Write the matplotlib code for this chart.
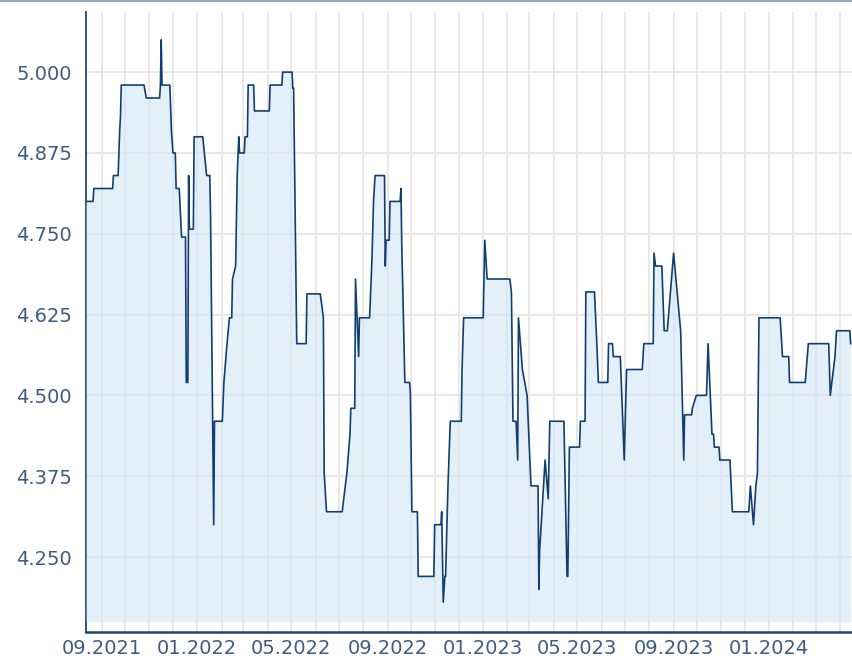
import matplotlib
matplotlib.use('Agg')
import matplotlib.pyplot as plt
import matplotlib.dates as mdates
from matplotlib.ticker import FormatStrFormatter
from matplotlib.lines import Line2D
import pandas as pd

dates = [
    "2021-08-12", "2021-08-21", "2021-08-22", "2021-09-15", "2021-09-16", "2021-09-22",
    "2021-09-24", "2021-09-25", "2021-09-26", "2021-10-25", "2021-10-28", "2021-11-14",
    "2021-11-15", "2021-11-16", "2021-11-17", "2021-11-27", "2021-11-29", "2021-12-01",
    "2021-12-04", "2021-12-05", "2021-12-09", "2021-12-12", "2021-12-17", "2021-12-18",
    "2021-12-20", "2021-12-21", "2021-12-22", "2021-12-27", "2021-12-28", "2022-01-08",
    "2022-01-13", "2022-01-17", "2022-01-18", "2022-01-22", "2022-01-23", "2022-02-02",
    "2022-02-04", "2022-02-08", "2022-02-11", "2022-02-14", "2022-02-15", "2022-02-19",
    "2022-02-21", "2022-02-23", "2022-02-24", "2022-03-02", "2022-03-03", "2022-03-06",
    "2022-03-07", "2022-03-14", "2022-03-15", "2022-04-03", "2022-04-04", "2022-04-19",
    "2022-04-20", "2022-05-02", "2022-05-03", "2022-05-04", "2022-05-05", "2022-05-08",
    "2022-05-20", "2022-05-21", "2022-06-07", "2022-06-11", "2022-06-12", "2022-06-15",
    "2022-07-05", "2022-07-11", "2022-07-15", "2022-07-16", "2022-07-21", "2022-07-22",
    "2022-07-26", "2022-07-27", "2022-08-09", "2022-08-12", "2022-08-14", "2022-08-16",
    "2022-08-28", "2022-08-29", "2022-08-30", "2022-09-03", "2022-09-04", "2022-09-17",
    "2022-09-18", "2022-09-19", "2022-09-23", "2022-09-29", "2022-09-30", "2022-10-02",
    "2022-10-09", "2022-10-10", "2022-10-30", "2022-10-31", "2022-11-08", "2022-11-09",
    "2022-11-11", "2022-11-13", "2022-11-14", "2022-11-17", "2022-11-20", "2022-12-04",
    "2022-12-05", "2022-12-07", "2023-01-01", "2023-01-03", "2023-01-06", "2023-02-04",
    "2023-02-06", "2023-02-08", "2023-02-12", "2023-02-14", "2023-02-15", "2023-02-20",
    "2023-02-26", "2023-03-03", "2023-03-12", "2023-03-13", "2023-03-14", "2023-03-21",
    "2023-03-25", "2023-03-27", "2023-04-14", "2023-04-18", "2023-04-19", "2023-04-21",
    "2023-05-04", "2023-05-05", "2023-05-11", "2023-05-12", "2023-05-23", "2023-05-26",
    "2023-05-28", "2023-06-09", "2023-06-10", "2023-06-15", "2023-06-16", "2023-06-25",
    "2023-06-30", "2023-07-03", "2023-07-23", "2023-07-25", "2023-08-06", "2023-08-07",
    "2023-08-09", "2023-08-17", "2023-08-20", "2023-08-24", "2023-08-28", "2023-09-01",
    "2023-09-10", "2023-09-14", "2023-09-15", "2023-09-24", "2023-09-25", "2023-09-30",
    "2023-10-13", "2023-10-15", "2023-10-20", "2023-10-22", "2023-10-23", "2023-10-29",
    "2023-10-30", "2023-11-12", "2023-11-15", "2023-12-06", "2023-12-08", "2023-12-12",
    "2023-12-15", "2023-12-17", "2023-12-19", "2024-01-15", "2024-01-18", "2024-01-26",
    "2024-01-27", "2024-02-16", "2024-02-20", "2024-03-17", "2024-03-19", "2024-03-25",
    "2024-03-27", "2024-04-13", "2024-04-14",
]

values = [
    4.80, 4.80, 4.82, 4.82, 4.84, 4.84,
    4.91, 4.93, 4.98, 4.98, 4.96, 4.96,
    4.98, 5.05, 4.98, 4.98, 4.91, 4.875,
    4.875, 4.82, 4.82, 4.745, 4.745, 4.52,
    4.52, 4.84, 4.757, 4.757, 4.90, 4.90,
    4.84, 4.84, 4.775, 4.30, 4.46, 4.46,
    4.52, 4.58, 4.62, 4.62, 4.68, 4.70,
    4.84, 4.90, 4.875, 4.875, 4.90, 4.90,
    4.98, 4.98, 4.94, 4.94, 4.98, 4.98,
    5.00, 5.00, 4.975, 4.975, 4.875, 4.58,
    4.58, 4.657, 4.657, 4.62, 4.38, 4.32,
    4.32, 4.38, 4.44, 4.48, 4.48, 4.68,
    4.56, 4.62, 4.62, 4.71, 4.80, 4.84,
    4.84, 4.70, 4.74, 4.74, 4.80, 4.80,
    4.82, 4.735, 4.52, 4.52, 4.505, 4.32,
    4.32, 4.22, 4.22, 4.30, 4.30, 4.32,
    4.18, 4.22, 4.22, 4.36, 4.46, 4.46,
    4.54, 4.62, 4.62, 4.74, 4.68, 4.68,
    4.66, 4.46, 4.46, 4.40, 4.62, 4.54,
    4.50, 4.36, 4.36, 4.20, 4.26, 4.40,
    4.34, 4.46, 4.46, 4.22, 4.22, 4.42,
    4.42, 4.46, 4.46, 4.66, 4.66, 4.58,
    4.52, 4.52, 4.58, 4.58, 4.56, 4.56,
    4.40, 4.54, 4.54, 4.58, 4.58, 4.72,
    4.70, 4.70, 4.60, 4.60, 4.66, 4.72,
    4.60, 4.40, 4.47, 4.47, 4.48, 4.50,
    4.50, 4.58, 4.44, 4.44, 4.42, 4.42,
    4.40, 4.40, 4.32, 4.32, 4.36, 4.30,
    4.36, 4.38, 4.62, 4.62, 4.56, 4.56,
    4.52, 4.52, 4.58, 4.58, 4.50, 4.56,
    4.60, 4.60, 4.58,
]

y_ticks = [4.250, 4.375, 4.500, 4.625, 4.750, 4.875, 5.000]
fill_base = 4.15

W, H = 853, 662
fig = plt.figure(figsize=(W / 100, H / 100), dpi=100)
ax = fig.add_axes([86 / W, 30 / H, 1 - 86 / W, 620 / H])

d = pd.to_datetime(dates)
ax.fill_between(d, values, fill_base, color='#d2e6f6', alpha=0.6, lw=0, zorder=3)
ax.plot(d, values, color='#123f6f', lw=1.2, zorder=4)

ax.set_xlim(pd.Timestamp('2021-08-12'), pd.Timestamp('2024-04-17'))
ax.set_ylim(4.134, 5.093)
ax.set_yticks(y_ticks)
ax.yaxis.set_major_formatter(FormatStrFormatter('%.3f'))
ax.xaxis.set_major_locator(mdates.MonthLocator(bymonth=[1, 5, 9]))
ax.xaxis.set_major_formatter(mdates.DateFormatter('%m.%Y'))
ax.xaxis.set_minor_locator(mdates.MonthLocator())

ax.set_axisbelow(True)
ax.grid(True, which='both', axis='x', color='#e8e8e8', lw=1.4)
ax.grid(True, which='major', axis='y', color='#e8e8e8', lw=1.4)

for s in ['top', 'right']:
    ax.spines[s].set_visible(False)
ax.spines['left'].set_color('#1d4672')
ax.spines['left'].set_linewidth(1.3)
ax.spines['bottom'].set_color('#1d4672')
ax.spines['bottom'].set_linewidth(1.8)

ax.tick_params(axis='both', which='both', length=0)
ax.tick_params(axis='y', pad=10, labelsize=14, labelcolor='#3f5b82')
ax.tick_params(axis='x', pad=5, labelsize=14, labelcolor='#3f5b82')

fig.add_artist(Line2D([0, 1], [0.999, 0.999], transform=fig.transFigure,
                      color='#94aac4', lw=1.5))

fig.savefig('out.png', dpi=100)
